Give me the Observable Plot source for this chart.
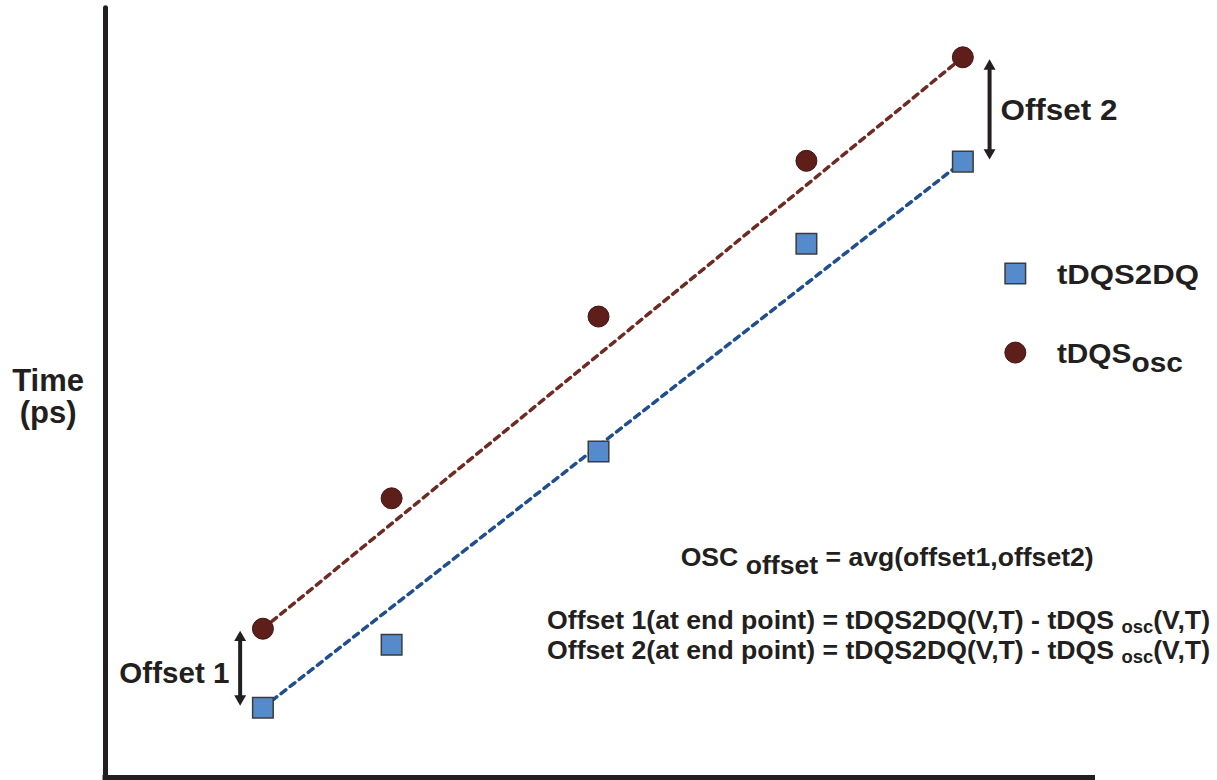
<!DOCTYPE html>
<html><head><meta charset="utf-8">
<script src="https://cdn.jsdelivr.net/npm/d3@7"></script>
<script src="https://cdn.jsdelivr.net/npm/@observablehq/plot@0.6"></script>
<style>body{margin:0;background:#fff} svg{display:block}</style>
</head><body><div id="chart"></div>
<script>
// ---- data (abstract units: x = operating point index, y = time) ----
const xPositions = [15.9, 28.9, 49.8, 70.8, 86.6];
const tdqs2dq   = [9.1, 17.3, 42.5, 69.6, 80.3];
const tdqsOsc   = [19.4, 36.4, 60.1, 80.4, 93.9];
const seriesNames = ["tDQS2DQ", "tDQS_{osc}"];
const offsetArrowX = [13.6, 89.3];
const offsetLabels = ["Offset 1", "Offset 2"];
const offsetLabelX = [1.4, 90.4];
const offsetLabelY = [12.3, 85.7];
const legendSymbolX = 91.9;
const legendLabelX = 96.1;
const legendSymbolY = [65.7, 55.4];
const legendLabelY = [64.4, 54.0];
const formulaTitle = ["OSC _{offset} = avg(offset1,offset2)"];
const formulaTitleX = [58.1];
const formulaTitleY = [27.6];
const formulaLines = ["Offset 1(at end point) = tDQS2DQ(V,T) - tDQS _{osc}(V,T)",
                      "Offset 2(at end point) = tDQS2DQ(V,T) - tDQS _{osc}(V,T)"];
const formulaLinesX = [44.6, 44.6];
const formulaLinesY = [19.4, 15.4];
const yLabel = ["Time\n(ps)"];
const yLabelX = [-5.8];
const yLabelY = [46.2];
const axisXExtent = [-0.25, 100];
const axisYExtent = [-0.4, 100.3];

// ---- derived tables ----
const squares = xPositions.map((x, i) => ({x, y: tdqs2dq[i]}));
const circles = xPositions.map((x, i) => ({x, y: tdqsOsc[i]}));
const last = xPositions.length - 1;
const blueTrend = [squares[0], squares[last]];
const redTrend = [circles[0], circles[last]];
const arrows = [0, last].map((idx, k) => ({x: offsetArrowX[k], top: tdqsOsc[idx], bot: tdqs2dq[idx]}));
const offsetText = offsetLabels.map((t, i) => ({t, x: offsetLabelX[i], y: offsetLabelY[i]}));
const legendSquare = [{x: legendSymbolX, y: legendSymbolY[0]}];
const legendCircle = [{x: legendSymbolX, y: legendSymbolY[1]}];
const legendText = seriesNames.map((t, i) => ({t, x: legendLabelX, y: legendLabelY[i]}));
const titleText = formulaTitle.map((t, i) => ({t, x: formulaTitleX[i], y: formulaTitleY[i]}));
const lineText = formulaLines.map((t, i) => ({t, x: formulaLinesX[i], y: formulaLinesY[i]}));
const yLabelText = yLabel.map((t, i) => ({t, x: yLabelX[i], y: yLabelY[i]}));

const FONT = "'Liberation Sans', Arial, Helvetica, sans-serif";
const INK = "#231f20";
const BLUE_FILL = "#568bcb", BLUE_LINE = "#1f4f8f";
const RED_FILL = "#5e1f1b", RED_LINE = "#6e2b24";

const plot = Plot.plot({
  width: 1217, height: 780,
  marginTop: 0, marginRight: 0, marginBottom: 0, marginLeft: 0,
  x: {domain: [0, 100], range: [105, 1095], axis: null},
  y: {domain: [0, 100], range: [777, 10], axis: null},
  style: {background: "#fff", fontFamily: FONT},
  marks: [
    // axes
    Plot.ruleX([{x: 0, y1: axisYExtent[0], y2: axisYExtent[1]}], {x: "x", y1: "y1", y2: "y2", stroke: INK, strokeWidth: 5, strokeLinecap: "round"}),
    Plot.ruleY([{y: 0, x1: axisXExtent[0], x2: axisXExtent[1]}], {y: "y", x1: "x1", x2: "x2", stroke: INK, strokeWidth: 5}),
    // dashed trend lines
    Plot.line(redTrend, {x: "x", y: "y", stroke: RED_LINE, strokeWidth: 3.5, strokeDasharray: "6,5.5"}),
    Plot.line(blueTrend, {x: "x", y: "y", stroke: BLUE_LINE, strokeWidth: 3.5, strokeDasharray: "6,5.5"}),
    // points
    Plot.dot(circles, {x: "x", y: "y", r: 10.5, fill: RED_FILL, stroke: "#3d1411", strokeWidth: 1}),
    Plot.dot(squares, {x: "x", y: "y", symbol: "square", r: 11.6, fill: BLUE_FILL, stroke: "#3b3b3b", strokeWidth: 1.5}),
    // offset double arrows
    Plot.ruleX(arrows, {x: "x", y1: "top", y2: "bot", stroke: INK, strokeWidth: 4, insetTop: 9, insetBottom: 9}),
    Plot.dot(arrows, {x: "x", y: "top", symbol: "triangle2", r: 5.7, fill: INK, dy: 8.9}),
    Plot.dot(arrows, {x: "x", y: "bot", symbol: "triangle2", r: 5.7, fill: INK, rotate: 180, dy: -8.9}),
    Plot.text(offsetText, {x: "x", y: "y", text: "t", textAnchor: "start", lineAnchor: "bottom", fontSize: 30, fontWeight: "bold", fill: INK}),
    // legend
    Plot.dot(legendSquare, {x: "x", y: "y", symbol: "square", r: 11.6, fill: BLUE_FILL, stroke: "#3b3b3b", strokeWidth: 1.5}),
    Plot.dot(legendCircle, {x: "x", y: "y", r: 10.5, fill: RED_FILL, stroke: "#3d1411", strokeWidth: 1}),
    Plot.text(legendText, {x: "x", y: "y", text: "t", textAnchor: "start", lineAnchor: "bottom", fontSize: 27, fontWeight: "bold", fill: INK}),
    // formulas
    Plot.text(titleText, {x: "x", y: "y", text: "t", textAnchor: "start", lineAnchor: "bottom", fontSize: 25, fontWeight: "bold", fill: INK}),
    Plot.text(lineText, {x: "x", y: "y", text: "t", textAnchor: "start", lineAnchor: "bottom", fontSize: 26, fontWeight: "bold", fill: INK}),
    // y label
    Plot.text(yLabelText, {x: "x", y: "y", text: "t", textAnchor: "middle", lineAnchor: "bottom", lineHeight: 1.05, fontSize: 31, fontWeight: "bold", fill: INK})
  ]
});

// subscript handling + widths matching the reference typesetting
const textStyle = {
  "OSC _{offset} = avg(offset1,offset2)": {shift: 8, sub: 25, len: 413},
  "Offset 1(at end point) = tDQS2DQ(V,T) - tDQS _{osc}(V,T)": {shift: 4, sub: 18, len: 663},
  "Offset 2(at end point) = tDQS2DQ(V,T) - tDQS _{osc}(V,T)": {shift: 4, sub: 18, len: 663},
  "tDQS_{osc}": {shift: 9, sub: 27, len: 126},
  "tDQS2DQ": {len: 142},
  "Offset 2": {len: 117},
  "Offset 1": {len: 110}
};
d3.select(plot).selectAll("text").each(function() {
  const el = d3.select(this);
  const raw = this.textContent;
  const st = textStyle[raw];
  if (!st) return;
  if (raw.includes("_{")) {
    const parts = raw.split(/_\{([^}]*)\}/);
    el.text(null);
    parts.forEach((p, i) => {
      if (p === "") return;
      const ts = el.append("tspan").text(p);
      if (i % 2 === 1) {
        ts.attr("dy", st.shift).attr("font-size", st.sub);
      } else if (i > 0) {
        ts.attr("dy", -st.shift);
      }
    });
  }
  if (st.len) el.attr("textLength", st.len).attr("lengthAdjust", "spacingAndGlyphs");
});

document.getElementById("chart").appendChild(plot);
</script>
</body></html>
